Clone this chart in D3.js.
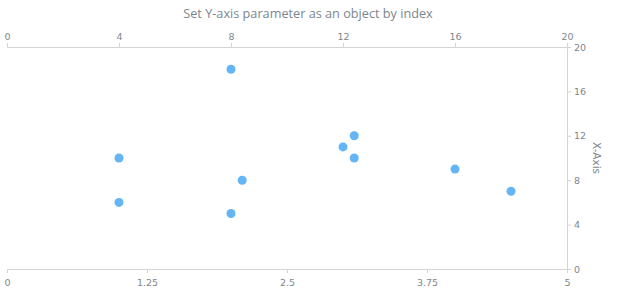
<!DOCTYPE html>
<html>
<head>
<meta charset="utf-8">
<script src="https://cdn.jsdelivr.net/npm/d3@7"></script>
<style>
  html, body { margin: 0; padding: 0; background: #fff; }
  svg { display: block; font-family: "Open Sans", "DejaVu Sans", sans-serif; }
</style>
</head>
<body>
<svg id="chart" width="620" height="300"></svg>
<script>
const title = "Set Y-axis parameter as an object by index";
const xValues = [1, 1, 2, 2, 2.1, 3, 3.1, 3.1, 4, 4.5];
const yValues = [10, 6, 18, 5, 8, 11, 12, 10, 9, 7];
const bottomTicks = [0, 1.25, 2.5, 3.75, 5];
const topTicks = [0, 4, 8, 12, 16, 20];
const rightTicks = [0, 4, 8, 12, 16, 20];
const yAxisTitle = "X-Axis";

const svg = d3.select("#chart");
const plotLeft = 7, plotRight = 567, plotTop = 47, plotBottom = 269;

const x = d3.scaleLinear().domain([0, 5]).range([plotLeft, plotRight]);
const xTop = d3.scaleLinear().domain([0, 20]).range([plotLeft, plotRight]);
const y = d3.scaleLinear().domain([0, 20]).range([plotBottom, plotTop]);

const axisColor = "#d4d4d4";
const textColor = "#7c868e";

svg.append("text")
  .attr("x", 308).attr("y", 18)
  .attr("text-anchor", "middle")
  .attr("font-size", 12.7)
  .attr("fill", textColor)
  .text(title);

function styleAxis(g) {
  g.selectAll("path").attr("stroke", axisColor);
  g.selectAll("line").attr("stroke", axisColor);
  g.selectAll("text").attr("fill", textColor).attr("font-size", 9.5)
    .attr("font-family", "'DejaVu Sans', sans-serif");
}

svg.append("g")
  .attr("transform", `translate(0,${plotBottom})`)
  .call(d3.axisBottom(x).tickValues(bottomTicks).tickFormat(d => String(d)).tickSizeOuter(0).tickSize(4).tickPadding(6))
  .call(styleAxis);

svg.append("g")
  .attr("transform", `translate(0,${plotTop})`)
  .call(d3.axisTop(xTop).tickValues(topTicks).tickFormat(d => String(d)).tickSizeOuter(0).tickSize(4).tickPadding(3))
  .call(styleAxis);

svg.append("g")
  .attr("transform", `translate(${plotRight},0)`)
  .call(d3.axisRight(y).tickValues(rightTicks).tickFormat(d => String(d)).tickSizeOuter(0).tickSize(4).tickPadding(3))
  .call(styleAxis);

svg.append("text")
  .attr("transform", `translate(593,${(plotTop + plotBottom) / 2}) rotate(90)`)
  .attr("text-anchor", "middle")
  .attr("font-size", 10.5)
  .attr("font-family", "'DejaVu Sans', sans-serif")
  .attr("fill", textColor)
  .text(yAxisTitle);

svg.append("g").selectAll("circle")
  .data(xValues.map((v, i) => ({ x: v, y: yValues[i] })))
  .join("circle")
  .attr("cx", d => x(d.x))
  .attr("cy", d => y(d.y))
  .attr("r", 4.5)
  .attr("fill", "#64b5f6");
</script>
</body>
</html>
